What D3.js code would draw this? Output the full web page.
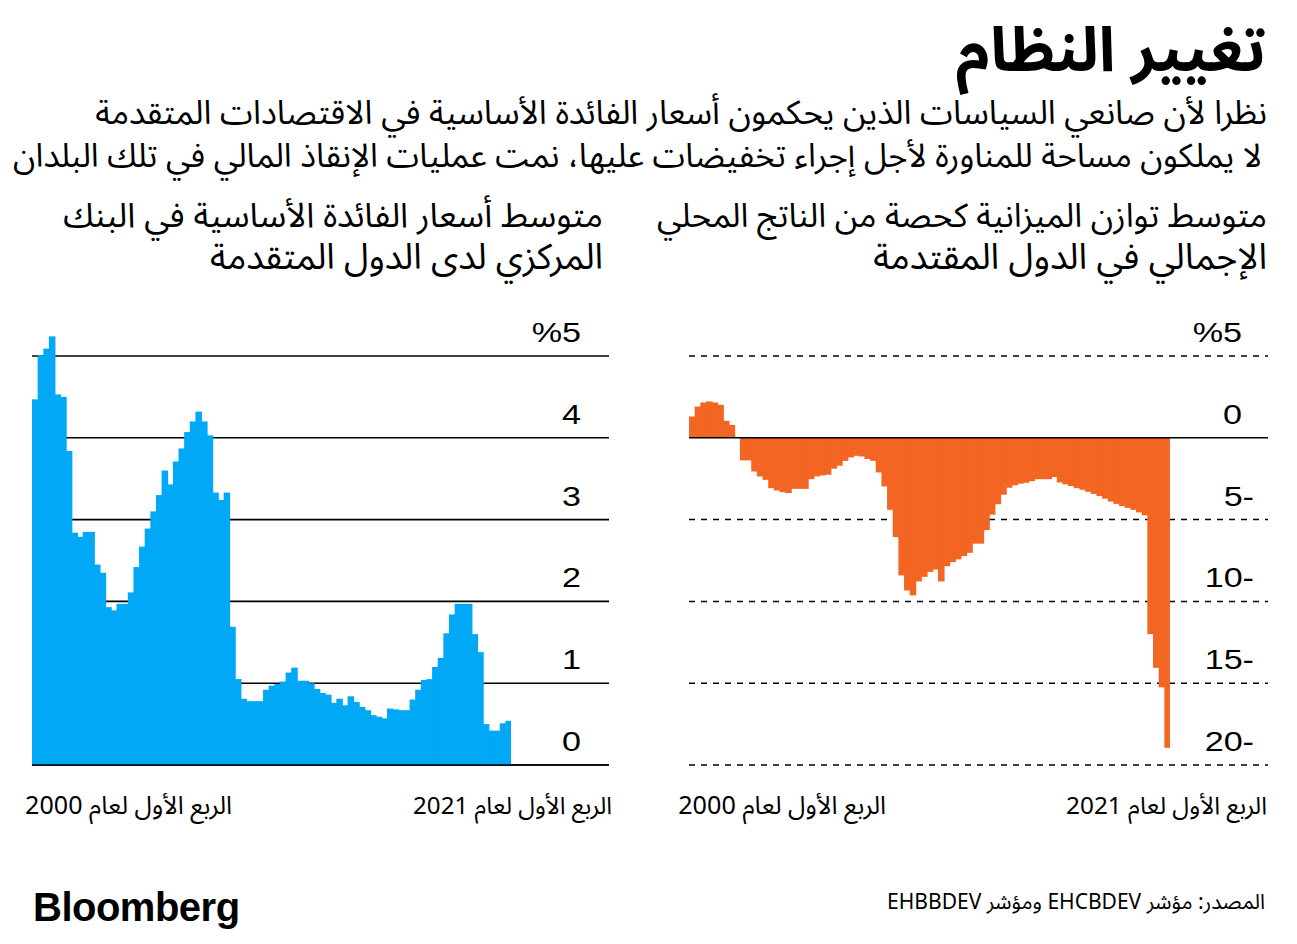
<!DOCTYPE html>
<html>
<head>
<meta charset="utf-8">
<script src="https://cdn.jsdelivr.net/npm/d3@7"></script>
<style>
  html, body { margin: 0; padding: 0; background: #fff; }
  svg { display: block; }
  .ar { font-family: "Noto Sans Arabic", "DejaVu Sans", "Noto Sans", sans-serif; }
  .num { font-family: "Liberation Sans", Arial, sans-serif; }
</style>
</head>
<body>
<svg id="chart" width="1297" height="944"></svg>
<script>
// ---------- DATA ----------
const quarters = [];
for (let y = 2000; y <= 2021; y++) for (let q = 1; q <= 4; q++) if (!(y === 2021 && q > 1)) quarters.push(y + "Q" + q);

// Average central bank policy rate, advanced economies (%)
const policyRate = [
  4.47, 5.01, 5.09, 5.24, 4.53, 4.50, 3.84, 2.84, 2.79, 2.85,
  2.85, 2.45, 2.35, 1.93, 1.89, 1.97, 1.97, 2.11, 2.42, 2.67,
  2.89, 3.10, 3.30, 3.60, 3.43, 3.71, 3.87, 4.07, 4.20, 4.32,
  4.20, 4.03, 3.33, 3.24, 3.33, 1.69, 1.05, 0.81, 0.78, 0.78,
  0.78, 0.92, 0.97, 0.99, 1.02, 1.13, 1.19, 1.03, 1.03, 1.00,
  0.93, 0.88, 0.86, 0.76, 0.81, 0.73, 0.84, 0.77, 0.71, 0.67,
  0.61, 0.59, 0.57, 0.69, 0.68, 0.67, 0.67, 0.80, 0.92, 1.04,
  1.05, 1.20, 1.31, 1.61, 1.84, 1.97, 1.97, 1.97, 1.60, 1.38,
  0.50, 0.42, 0.42, 0.51, 0.54
];

// Average budget balance as % of GDP, advanced economies
const budgetBalance = [
  1.30, 1.91, 2.16, 2.22, 2.16, 2.02, 1.04, 0.79, 0.00, -1.38,
  -1.38, -2.06, -2.36, -2.57, -3.08, -3.22, -3.32, -3.38, -3.12, -3.12,
  -3.12, -2.53, -2.36, -2.30, -2.26, -1.89, -1.71, -1.41, -1.20, -1.10,
  -1.14, -1.30, -1.41, -2.12, -2.97, -4.40, -6.07, -8.41, -9.33, -9.63,
  -8.78, -8.50, -8.20, -8.05, -8.78, -7.85, -7.60, -7.43, -7.23, -7.03,
  -6.47, -6.47, -5.64, -4.70, -4.06, -3.48, -3.05, -2.90, -2.80, -2.75,
  -2.65, -2.53, -2.53, -2.53, -2.40, -2.73, -2.85, -2.95, -3.08, -3.18,
  -3.30, -3.43, -3.56, -3.72, -3.90, -4.04, -4.18, -4.28, -4.40, -4.56,
  -4.74, -12.00, -14.06, -15.25, -18.95
];

const leftTicks = [0, 1, 2, 3, 4, 5];
const leftTickLabels = ["0", "1", "2", "3", "4", "%5"];
const rightTicks = [-20, -15, -10, -5, 0, 5];
const rightTickLabels = ["20-", "15-", "10-", "5-", "0", "%5"];
const xLabelStart = "الربع الأول لعام 2000";
const xLabelEnd = "الربع الأول لعام 2021";

const titleText = "تغيير النظام";
const subtitleLines = [
  "نظرا لأن صانعي السياسات الذين يحكمون أسعار الفائدة الأساسية في الاقتصادات المتقدمة",
  "لا يملكون مساحة للمناورة لأجل إجراء تخفيضات عليها، نمت عمليات الإنقاذ المالي في تلك البلدان"
];
const rightPanelTitle = ["متوسط توازن الميزانية كحصة من الناتج المحلي", "الإجمالي في الدول المقتدمة"];
const leftPanelTitle = ["متوسط أسعار الفائدة الأساسية في البنك", "المركزي لدى الدول المتقدمة"];
const sourceText = "المصدر: مؤشر EHCBDEV ومؤشر EHBBDEV";

// ---------- DRAW ----------
const svg = d3.select("#chart");
const BLUE = "#00a8f5";
const ORANGE = "#f26522";

function rtlText(x, y, text, size, weight, targetWidth, cap) {
  const t = svg.append("text")
    .attr("class", "ar")
    .attr("x", x).attr("y", y)
    .attr("direction", "rtl")
    .style("direction", "rtl")
    .attr("text-anchor", "start")
    .attr("font-size", size)
    .attr("font-weight", weight || "normal")
    .attr("fill", "#000")
    .text(text);
  if (targetWidth) {
    const w = t.node().getComputedTextLength();
    if (w > 0) {
      const s = Math.min(size * targetWidth / w, size * (cap || 1.4));
      t.attr("font-size", s);
    }
  }
  return t;
}

// Title & subtitle
rtlText(1266, 71, titleText, 54, "bold", 310);
rtlText(1267, 124, subtitleLines[0], 28, "normal", 1172);
rtlText(1262, 167, subtitleLines[1], 28, "normal", 1250);

// Panel titles
rtlText(1267, 227, rightPanelTitle[0], 28, "normal", 610);
rtlText(1267, 269, rightPanelTitle[1], 28, "normal", 394);
rtlText(603, 227, leftPanelTitle[0], 28, "normal", 540);
rtlText(603, 269, leftPanelTitle[1], 28, "normal", 393);

// tick label helper: digits slightly widened like the reference typeface
function tickLabel(g, x, y, text) {
  g.append("text")
    .attr("class", "num")
    .attr("transform", `translate(${x},${y}) scale(1.22,1)`)
    .attr("text-anchor", "end")
    .attr("font-size", 28)
    .attr("fill", "#000")
    .text(text);
}

// ---------- Left panel (policy rates) ----------
const yL = d3.scaleLinear().domain([0, 5]).range([765, 356]);
const xL = d3.scaleBand().domain(quarters).range([32, 511]).padding(0);
const gL = svg.append("g");

gL.selectAll("line.grid").data(leftTicks).join("line")
  .attr("x1", 32).attr("x2", 609)
  .attr("y1", d => yL(d)).attr("y2", d => yL(d))
  .attr("stroke", "#000").attr("stroke-width", 1.6);

gL.selectAll("rect").data(policyRate).join("rect")
  .attr("x", (d, i) => xL(quarters[i]))
  .attr("width", (d, i) => xL.bandwidth() + (i < quarters.length - 1 ? 0.9 : 0))
  .attr("y", d => yL(d))
  .attr("height", d => yL(0) - yL(d))
  .attr("fill", BLUE);

gL.append("line").attr("x1", 32).attr("x2", 609)
  .attr("y1", yL(0)).attr("y2", yL(0))
  .attr("stroke", "#000").attr("stroke-width", 1.6);

leftTicks.forEach((d, i) => tickLabel(gL, 581, yL(d) - 14, leftTickLabels[i]));

// ---------- Right panel (budget balance) ----------
const yR = d3.scaleLinear().domain([-20, 5]).range([765, 356]);
const xR = d3.scaleBand().domain(quarters).range([689, 1170]).padding(0);
const gR = svg.append("g");

gR.selectAll("line.grid").data(rightTicks.filter(d => d !== 0)).join("line")
  .attr("x1", 689).attr("x2", 1268)
  .attr("y1", d => yR(d)).attr("y2", d => yR(d))
  .attr("stroke", "#000").attr("stroke-width", 1.5)
  .attr("stroke-dasharray", "6,6");

gR.selectAll("rect").data(budgetBalance).join("rect")
  .attr("x", (d, i) => xR(quarters[i]))
  .attr("width", (d, i) => xR.bandwidth() + (i < quarters.length - 1 ? 0.9 : 0))
  .attr("y", d => yR(Math.max(0, d)))
  .attr("height", d => Math.abs(yR(d) - yR(0)))
  .attr("fill", ORANGE);

gR.append("line").attr("x1", 689).attr("x2", 1268)
  .attr("y1", yR(0)).attr("y2", yR(0))
  .attr("stroke", "#000").attr("stroke-width", 1.6);

rightTicks.forEach((d, i) => tickLabel(gR, d < 0 ? 1254 : 1242, yR(d) - 14, rightTickLabels[i]));

// ---------- X labels ----------
function xlab(xRight, text, target) { return rtlText(xRight, 814, text, 20, "normal", target); }
xlab(232, xLabelStart, 207);
xlab(612, xLabelEnd, 199);
xlab(886, xLabelStart, 208);
xlab(1267, xLabelEnd, 201);

// ---------- Footer ----------
rtlText(1265, 909, sourceText, 17, "normal", 378);
svg.append("text")
  .attr("class", "num")
  .attr("x", 33).attr("y", 921)
  .attr("font-size", 40)
  .attr("font-weight", "bold")
  .attr("letter-spacing", -0.5)
  .attr("fill", "#000")
  .text("Bloomberg");
</script>
</body>
</html>
